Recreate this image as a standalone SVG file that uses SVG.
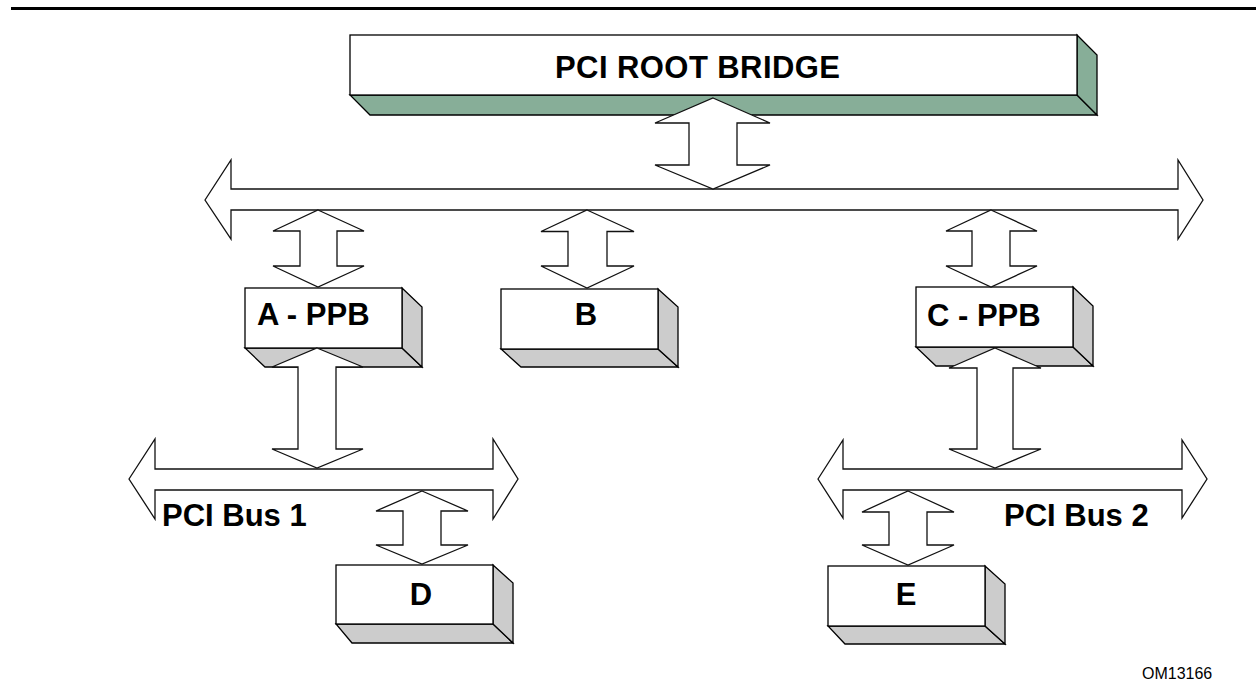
<svg xmlns="http://www.w3.org/2000/svg" width="1256" height="691" viewBox="0 0 1256 691">
<style>
.face{fill:#fff;stroke:#000;stroke-width:1.3;stroke-linejoin:miter}
.sh{fill:#cccccc;stroke:#000;stroke-width:1.3}
.gr{fill:#87ae98;stroke:#000;stroke-width:1.3}
.arr{fill:#fff;stroke:#111;stroke-width:1.3;stroke-linejoin:miter}
.lbl{font-family:"Liberation Sans",Arial,sans-serif;font-weight:bold;font-size:31px;fill:#000}
.small{font-family:"Liberation Sans",Arial,sans-serif;font-size:16px;fill:#000}
</style>
<rect x="11" y="7" width="1245" height="3" fill="#000"/>
<g id="root-bridge">
<polygon class="gr" points="350,95 1077,95 1097,115 370,115"/>
<polygon class="gr" points="1077,35 1097,55 1097,115 1077,95"/>
<rect class="face" x="350" y="35" width="727" height="60"/>
<text class="lbl" x="555" y="78" textLength="285" lengthAdjust="spacing">PCI ROOT BRIDGE</text>
</g>
<g id="bus0">
<polygon class="arr" points="205,200 231,160 231,189 1178,189 1178,160 1203,200 1178,239 1178,210 231,210 231,239"/>
</g>
<g id="bus1">
<polygon class="arr" points="129,479 155,439 155,469 493,469 493,439 518,479 493,519 493,490 155,490 155,519"/>
<text class="lbl" x="162" y="526">PCI Bus 1</text>
</g>
<g id="bus2">
<polygon class="arr" points="818,479 843,440 843,469 1182,469 1182,440 1207,479 1182,518 1182,490 843,490 843,518"/>
<text class="lbl" x="1004" y="526">PCI Bus 2</text>
</g>
<g id="node-a">
<polygon class="sh" points="245,348 402,348 422,367 265,367"/>
<polygon class="sh" points="402,288 422,307 422,367 402,348"/>
<rect class="face" x="245" y="288" width="157" height="60"/>
<text class="lbl" x="257" y="325">A - PPB</text>
</g>
<g id="node-b">
<polygon class="sh" points="501,349 658,349 678,367 521,367"/>
<polygon class="sh" points="658,289 678,307 678,367 658,349"/>
<rect class="face" x="501" y="289" width="157" height="60"/>
<text class="lbl" x="586" y="325" text-anchor="middle">B</text>
</g>
<g id="node-c">
<polygon class="sh" points="916,347 1073,347 1093,366 936,366"/>
<polygon class="sh" points="1073,287 1093,306 1093,366 1073,347"/>
<rect class="face" x="916" y="287" width="157" height="60"/>
<text class="lbl" x="927" y="326">C - PPB</text>
</g>
<g id="node-d">
<polygon class="sh" points="336,624 493,624 513,643 352,643"/>
<polygon class="sh" points="493,565 513,583 513,643 493,624"/>
<rect class="face" x="336" y="565" width="157" height="59"/>
<text class="lbl" x="421" y="605" text-anchor="middle">D</text>
</g>
<g id="node-e">
<polygon class="sh" points="828,626 985,626 1005,644 845,644"/>
<polygon class="sh" points="985,566 1005,584 1005,644 985,626"/>
<rect class="face" x="828" y="566" width="157" height="60"/>
<text class="lbl" x="906" y="605" text-anchor="middle">E</text>
</g>
<g id="connectors">
<polygon class="arr" points="713,98 770,123 737,123 737,165 770,165 713,189 655,165 689,165 689,123 655,123"/>
<polygon class="arr" points="318,210 364,231 337,231 337,266 364,266 318,287 273,266 300,266 300,231 273,231"/>
<polygon class="arr" points="587,210 634,231.5 607,231.5 607,266 634,266 587,288 541,266 568,266 568,231.5 541,231.5"/>
<polygon class="arr" points="991,210 1037,231 1010,231 1010,266 1037,266 991,287 946,266 972,266 972,231 946,231"/>
<polygon class="arr" points="317,348 363,367 336,367 336,449 363,449 317,468 272,449 298,449 298,367 272,367"/>
<polygon class="arr" points="995,348 1041,368 1013,368 1013,449 1041,449 995,468 949,449 977,449 977,368 949,368"/>
<polygon class="arr" points="422,491 468,511 441,511 441,545 468,545 422,564 376,545 403,545 403,511 376,511"/>
<polygon class="arr" points="908,491 954,512 927,512 927,545 954,545 908,565 862,545 889,545 889,512 862,512"/>
</g>
<text class="small" x="1142" y="679">OM13166</text>
</svg>
